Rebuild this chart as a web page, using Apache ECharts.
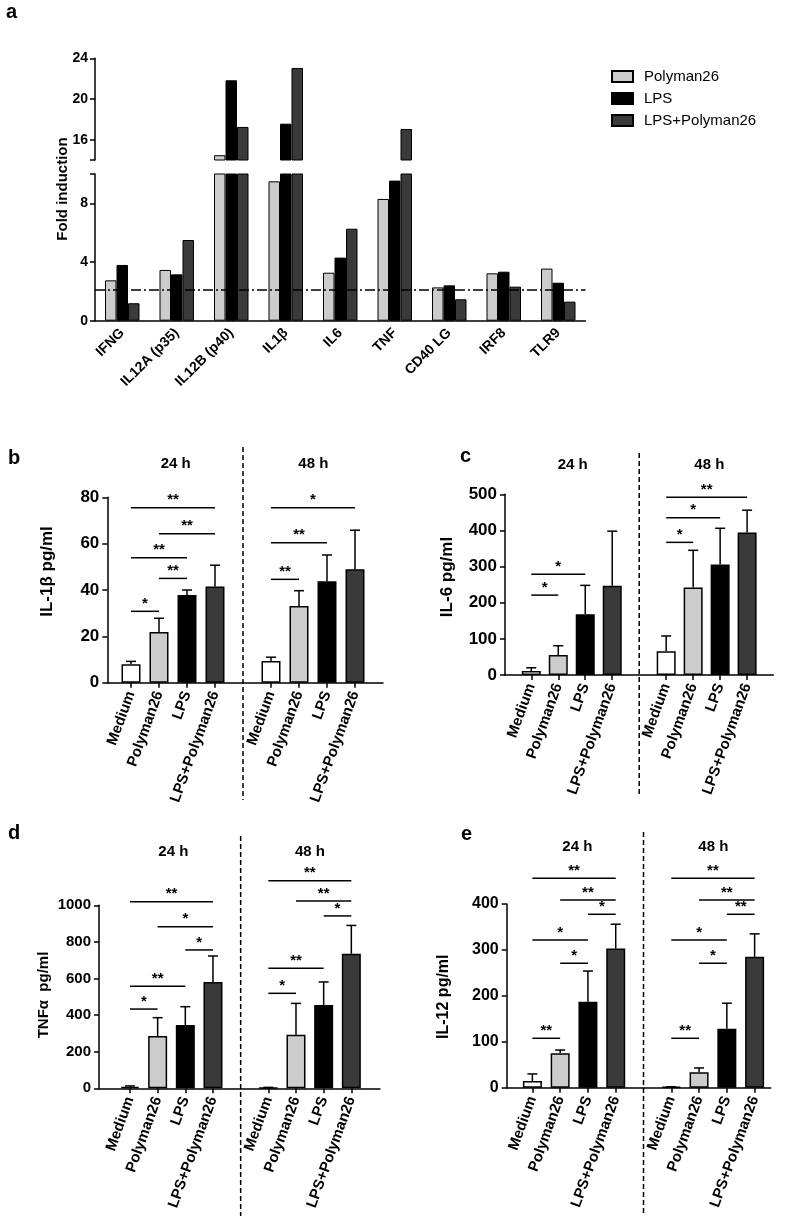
<!DOCTYPE html>
<html><head><meta charset="utf-8">
<script src="https://cdn.jsdelivr.net/npm/echarts@6/dist/echarts.min.js"></script>
<style>html,body{margin:0;padding:0;background:#fff}#c{width:787px;height:1218px}</style>
</head><body><div id="c"></div>
<script>
const FONT = '"Liberation Sans", Arial, Helvetica, sans-serif';

// ---------- Panel a: fold induction ----------
const genes = ['IFNG', 'IL12A (p35)', 'IL12B (p40)', 'IL1β', 'IL6', 'TNF', 'CD40 LG', 'IRF8', 'TLR9'];
const foldPolyman26 = [2.75, 3.46, 14.47, 9.5, 3.27, 8.3, 2.27, 3.23, 3.55];
const foldLPS = [3.8, 3.16, 21.84, 17.57, 4.3, 9.55, 2.41, 3.34, 2.59];
const foldLPSPolyman26 = [1.19, 5.5, 17.25, 23.05, 6.27, 17.05, 1.46, 2.32, 1.3];
const foldThreshold = 2.14;
const foldLowerRange = [0, 10];
const foldUpperRange = [14, 24];
const foldLowerTicks = [0, 4, 8];
const foldUpperTicks = [16, 20, 24];

// ---------- Panels b-e ----------
const conditions = ['Medium', 'Polyman26', 'LPS', 'LPS+Polyman26'];
const timepoints = ['24 h', '48 h'];

// b: IL-1beta
const il1bMean24 = [8, 21.9, 37.8, 41.5];
const il1bSd24 = [1.2, 5.9, 2.2, 9.2];
const il1bMean48 = [9.4, 33.1, 43.8, 49];
const il1bSd48 = [1.6, 6.6, 11.3, 16.8];
// [fromCondition, toCondition, timepointIndex, height, label]
const il1bSignif = [[0,1,0,30.8,'*'],[1,2,0,45,'**'],[0,2,0,53.9,'**'],[1,3,0,64.3,'**'],[0,3,0,75.5,'**'],
                    [0,1,1,44.6,'**'],[0,2,1,60.4,'**'],[0,3,1,75.5,'*']];
const il1bAxis = [0, 80, 20];

// c: IL-6
const il6Mean24 = [11, 55, 168, 247];
const il6Sd24 = [9, 26, 80, 151];
const il6Mean48 = [66, 242, 306, 394];
const il6Sd48 = [42, 103, 100, 62];
const il6Signif = [[0,1,0,221,'*'],[0,2,0,279,'*'],
                   [0,1,1,367,'*'],[0,2,1,435,'*'],[0,3,1,492,'**']];
const il6Axis = [0, 500, 100];

// d: TNF-alpha
const tnfMean24 = [8, 286, 346, 581];
const tnfSd24 = [5, 100, 100, 142];
const tnfMean48 = [3, 293, 455, 735];
const tnfSd48 = [2, 171, 126, 155];
const tnfSignif = [[0,1,0,433,'*'],[0,2,0,557,'**'],[2,3,0,756,'*'],[1,3,0,883,'*'],[0,3,0,1020,'**'],
                   [0,1,1,519,'*'],[0,2,1,656,'**'],[2,3,1,942,'*'],[1,3,1,1023,'**'],[0,3,1,1134,'**']];
const tnfAxis = [0, 1000, 200];

// e: IL-12
const il12Mean24 = [14.6, 75, 187, 303];
const il12Sd24 = [15.4, 7, 67, 53];
const il12Mean48 = [2, 33.5, 128.5, 285];
const il12Sd48 = [0, 9.5, 55.5, 50];
const il12Signif = [[0,1,0,107.6,'**'],[1,2,0,271,'*'],[0,2,0,321.6,'*'],[2,3,0,377.6,'*'],[1,3,0,408.7,'**'],[0,3,0,456,'**'],
                    [0,1,1,107.6,'**'],[1,2,1,271,'*'],[0,2,1,321.6,'*'],[2,3,1,377.6,'**'],[1,3,1,408.7,'**'],[0,3,1,456,'**']];
const il12Axis = [0, 400, 100];

// ---------- styles ----------
const COL_LIGHT = '#cccccc', COL_BLACK = '#000000', COL_DARK = '#3a3a3a', COL_WHITE = '#ffffff';
const condColors = [COL_WHITE, COL_LIGHT, COL_BLACK, COL_DARK];
const plainNum = function (v) { return String(v); };

const grids = [], xAxes = [], yAxes = [], series = [], graphics = [];

function txt(x, y, text, size, opts) {
  opts = opts || {};
  graphics.push({
    type: 'text', x: x, y: y, rotation: opts.rot || 0, z: 100,
    style: { text: text, font: (opts.weight || 'bold') + ' ' + size + 'px ' + FONT, fill: '#000',
             align: opts.align || 'center', verticalAlign: opts.va || 'middle',
             textAlign: opts.align || 'center', textVerticalAlign: opts.va || 'middle' }
  });
}

// ---------- Panel a ----------
(function () {
  const L = 95, W = 490.5;
  grids.push({ left: L, top: 58.3, width: W, height: 101.7, containLabel: false, outerBoundsMode: 'none' }); // upper 0
  grids.push({ left: L, top: 174, width: W, height: 146.7, containLabel: false, outerBoundsMode: 'none' }); // lower 1
  xAxes.push({ type: 'category', gridIndex: 0, data: genes, show: false });
  xAxes.push({ type: 'category', gridIndex: 1, data: genes,
    axisLine: { lineStyle: { color: '#000', width: 1.5 } },
    axisTick: { alignWithLabel: true, length: 5, lineStyle: { color: '#000', width: 1.5 } },
    axisLabel: { rotate: 45, margin: 10, color: '#000', fontWeight: 'bold', fontSize: 14, fontFamily: FONT } });
  const yCommon = { type: 'value', splitLine: { show: false },
    axisLine: { show: true, lineStyle: { color: '#000', width: 1.5 } } };
  yAxes.push(Object.assign({}, yCommon, { gridIndex: 0, min: foldUpperRange[0], max: foldUpperRange[1],
    axisTick: { show: true, length: 5, lineStyle: { color: '#000', width: 1.5 }, customValues: [foldUpperRange[0]].concat(foldUpperTicks) },
    axisLabel: { customValues: foldUpperTicks, color: '#000', fontWeight: 'bold', fontSize: 14, fontFamily: FONT, margin: 7 } }));
  yAxes.push(Object.assign({}, yCommon, { gridIndex: 1, min: foldLowerRange[0], max: foldLowerRange[1],
    axisTick: { show: true, length: 5, lineStyle: { color: '#000', width: 1.5 }, customValues: foldLowerTicks.concat([foldLowerRange[1]]) },
    axisLabel: { customValues: foldLowerTicks, color: '#000', fontWeight: 'bold', fontSize: 14, fontFamily: FONT, margin: 7 } }));
  const sets = [['Polyman26', foldPolyman26, COL_LIGHT], ['LPS', foldLPS, COL_BLACK], ['LPS+Polyman26', foldLPSPolyman26, COL_DARK]];
  [0, 1].forEach(function (g) {
    sets.forEach(function (s, i) {
      const ser = { type: 'bar', name: s[0], xAxisIndex: g, yAxisIndex: g, data: s[1], clip: true,
        barWidth: 11.5, barGap: '0%', itemStyle: { color: s[2], borderColor: '#000', borderWidth: 1 } };
      if (g === 1 && i === 2) {
        ser.markLine = { silent: true, symbol: 'none', label: { show: false },
          lineStyle: { color: '#000', width: 1.5, type: [10, 3, 2, 3] },
          data: [{ yAxis: foldThreshold }] };
      }
      series.push(ser);
    });
  });
  txt(63, 189, 'Fold induction', 15, { rot: Math.PI / 2 });
  txt(6, 12, 'a', 20, { align: 'left' });
})();

// ---------- Panels b-e ----------
const panels = [
  { letter: 'b', name: 'IL-1β pg/ml', m24: il1bMean24, s24: il1bSd24, m48: il1bMean48, s48: il1bSd48, sig: il1bSignif, axis: il1bAxis,
    frame: [107.3, 383], main: [103, 383], top: 497.3, bottom: 682.7, tickFont: 17,
    nameXY: [47, 571.5], letterXY: [8, 458], titleX: [175.7, 313.3], titleY: 464, divY: [447, 800] },
  { letter: 'c', name: 'IL-6 pg/ml', m24: il6Mean24, s24: il6Sd24, m48: il6Mean48, s48: il6Sd48, sig: il6Signif, axis: il6Axis,
    frame: [505, 773.3], main: [504.3, 774.1], top: 494.3, bottom: 675, tickFont: 17,
    nameXY: [447, 577], letterXY: [460, 456], titleX: [572.7, 709.3], titleY: 465, divY: [453, 797] },
  { letter: 'd', name: 'TNFα  pg/ml', m24: tnfMean24, s24: tnfSd24, m48: tnfMean48, s48: tnfSd48, sig: tnfSignif, axis: tnfAxis,
    frame: [99, 380], main: [102.3, 379], top: 905.3, bottom: 1088.3, tickFont: 15,
    nameXY: [43.5, 995], letterXY: [8, 833], titleX: [173.3, 310], titleY: 852, divY: [836, 1216] },
  { letter: 'e', name: 'IL-12 pg/ml', m24: il12Mean24, s24: il12Sd24, m48: il12Mean48, s48: il12Sd48, sig: il12Signif, axis: il12Axis,
    frame: [506.7, 770.7], main: [504.6, 782.4], top: 904, bottom: 1087.7, tickFont: 16,
    nameXY: [443.5, 996.7], letterXY: [461, 834], titleX: [577.3, 713.3], titleY: 847, divY: [832, 1214] }
];

const slotLabels = [''].concat(conditions, [''], conditions, ['']);
function slotOf(t, c) { return 1 + t * 5 + c; }

panels.forEach(function (p) {
  const h = p.bottom - p.top;
  const gFrame = grids.length;
  grids.push({ left: p.frame[0], top: p.top, width: p.frame[1] - p.frame[0], height: h, containLabel: false, outerBoundsMode: 'none' });
  const gMain = grids.length;
  grids.push({ left: p.main[0], top: p.top, width: p.main[1] - p.main[0], height: h, containLabel: false, outerBoundsMode: 'none' });

  xAxes.push({ type: 'value', gridIndex: gFrame, min: 0, max: 1,
    axisLine: { show: true, onZero: false, lineStyle: { color: '#000', width: 1.5 } },
    axisTick: { show: false }, axisLabel: { show: false }, splitLine: { show: false } });
  yAxes.push({ type: 'value', gridIndex: gFrame, min: p.axis[0], max: p.axis[1], interval: p.axis[2],
    axisLine: { show: true, lineStyle: { color: '#000', width: 1.5 } },
    axisTick: { show: true, length: 5, lineStyle: { color: '#000', width: 1.5 } },
    axisLabel: { formatter: plainNum, color: '#000', fontWeight: 'bold', fontSize: p.tickFont, fontFamily: FONT, margin: 8 },
    splitLine: { show: false } });

  const xMain = xAxes.length;
  const showSlot = function (i, v) { return v !== ''; };
  xAxes.push({ type: 'category', gridIndex: gMain, data: slotLabels, boundaryGap: false,
    axisLine: { show: false },
    axisTick: { show: true, interval: showSlot, length: 5, lineStyle: { color: '#000', width: 1.5 } },
    axisLabel: { interval: showSlot, rotate: 70, margin: 9, color: '#000', fontWeight: 'bold', fontSize: 15, fontFamily: FONT } });
  const yMain = yAxes.length;
  yAxes.push({ type: 'value', gridIndex: gMain, min: p.axis[0], max: p.axis[1], show: false });

  const barData = slotLabels.map(function () { return null; });
  const errData = [];
  [[p.m24, p.s24], [p.m48, p.s48]].forEach(function (ms, t) {
    ms[0].forEach(function (v, c) {
      barData[slotOf(t, c)] = { value: v, itemStyle: { color: condColors[c] } };
      errData.push([slotOf(t, c), v, ms[1][c]]);
    });
  });
  series.push({ type: 'bar', xAxisIndex: xMain, yAxisIndex: yMain, data: barData, barWidth: 19,
    itemStyle: { borderColor: '#000', borderWidth: 1.5 } });

  series.push({ type: 'custom', xAxisIndex: xMain, yAxisIndex: yMain, data: errData, z: 3,
    renderItem: function (params, api) {
      const a = api.coord([api.value(0), api.value(1)]);
      const b = api.coord([api.value(0), api.value(1) + api.value(2)]);
      return { type: 'group', children: [
        { type: 'line', shape: { x1: a[0], y1: a[1], x2: b[0], y2: b[1] }, style: { stroke: '#000', lineWidth: 1.5 } },
        { type: 'line', shape: { x1: b[0] - 5, y1: b[1], x2: b[0] + 5, y2: b[1] }, style: { stroke: '#000', lineWidth: 1.5 } }
      ] };
    } });

  const sigData = p.sig.map(function (s) { return [slotOf(s[2], s[0]), slotOf(s[2], s[1]), s[3], s[4]]; });
  series.push({ type: 'custom', xAxisIndex: xMain, yAxisIndex: yMain, data: sigData, z: 4, clip: false,
    encode: { x: [0, 1], y: 2 },
    renderItem: function (params, api) {
      const a = api.coord([api.value(0), api.value(2)]);
      const b = api.coord([api.value(1), api.value(2)]);
      const lab = sigData[params.dataIndex][3];
      return { type: 'group', children: [
        { type: 'line', shape: { x1: a[0], y1: a[1], x2: b[0], y2: a[1] }, style: { stroke: '#000', lineWidth: 1.5 } },
        { type: 'text', x: (a[0] + b[0]) / 2, y: a[1],
          style: { text: lab, font: 'bold 15px ' + FONT, fill: '#000', align: 'center', verticalAlign: 'bottom',
                   textAlign: 'center', textVerticalAlign: 'bottom' } }
      ] };
    } });

  const divY = p.divY;
  series.push({ type: 'custom', xAxisIndex: xMain, yAxisIndex: yMain, data: [[5, 0]], z: 2, clip: false,
    renderItem: function (params, api) {
      const c = api.coord([api.value(0), 0]);
      return { type: 'line', shape: { x1: c[0], y1: divY[0], x2: c[0], y2: divY[1] },
        style: { stroke: '#000', lineWidth: 1.5, lineDash: [5, 3] } };
    } });

  txt(p.nameXY[0], p.nameXY[1], p.name, p.tickFont, { rot: Math.PI / 2 });
  txt(p.letterXY[0], p.letterXY[1], p.letter, 20, { align: 'left' });
  txt(p.titleX[0], p.titleY, timepoints[0], 15);
  txt(p.titleX[1], p.titleY, timepoints[1], 15);
});

const chart = echarts.init(document.getElementById('c'), null, { renderer: 'canvas' });
chart.setOption({
  animation: false,
  backgroundColor: '#fff',
  textStyle: { fontFamily: FONT },
  legend: { data: ['Polyman26', 'LPS', 'LPS+Polyman26'], orient: 'vertical', left: 606, top: 64,
    icon: 'rect', itemWidth: 21, itemHeight: 11, itemGap: 7, selectedMode: false,
    textStyle: { fontSize: 15, color: '#000', fontFamily: FONT, padding: [0, 0, 0, 6] } },
  grid: grids, xAxis: xAxes, yAxis: yAxes, series: series, graphic: graphics
});
</script></body></html>
